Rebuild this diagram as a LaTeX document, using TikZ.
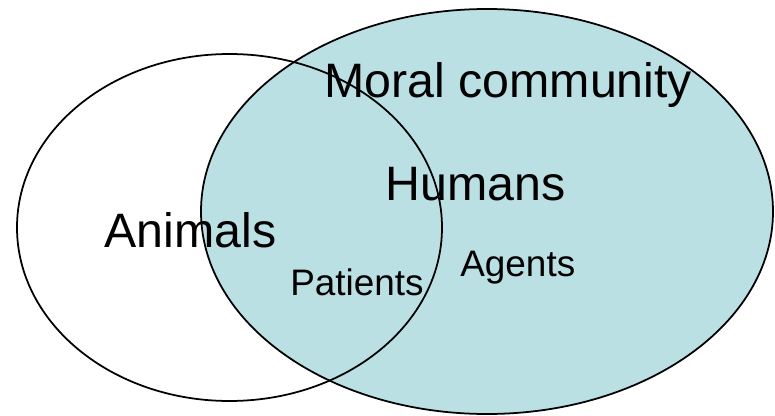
\documentclass[tikz,border=0pt]{standalone}
\usepackage{fontspec}
\setmainfont{Liberation Sans}
\usetikzlibrary{positioning}

\definecolor{moralfill}{RGB}{186,224,228}
\tikzset{
  setline/.style={line width=1pt, black},
  biglabel/.style={anchor=base west, inner sep=0pt, font=\fontsize{27.5pt}{30pt}\selectfont},
  smalllabel/.style={anchor=base west, inner sep=0pt, font=\fontsize{21pt}{24pt}\selectfont}
}

\begin{document}
\begin{tikzpicture}[x=0.02cm,y=-0.02cm]
  \useasboundingbox (0,0) rectangle (775,416);
  % moral community and animals
  \filldraw[setline, fill=moralfill] (487,211.5) ellipse [x radius=286, y radius=202.5];
  \draw[setline] (229.5,227.5) ellipse [x radius=212.5, y radius=173.5];

  \node[biglabel] (moral) at (324,97) {Moral community};
  \node[biglabel] (humans) at (385,200) {Humans};
  \node[biglabel] (animals) at (104,247) {Animals};
  \node[smalllabel] (patients) at (290,295) {Patients};
  \node[smalllabel] (agents) at (460,276) {Agents};
\end{tikzpicture}
\end{document}
